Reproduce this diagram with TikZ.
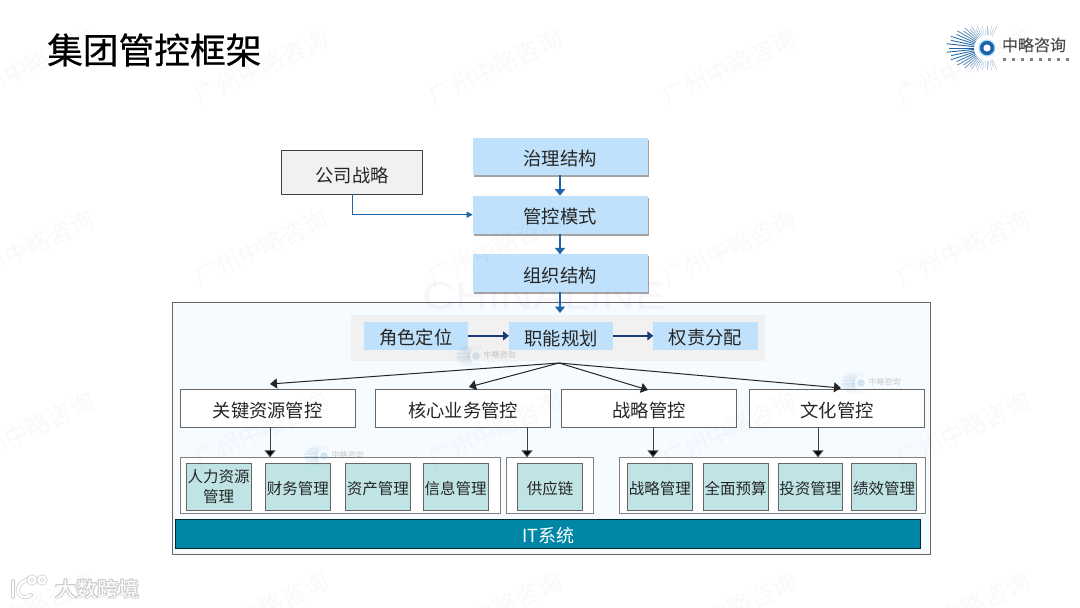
\documentclass[tikz,border=0pt]{standalone}
\usepackage{fontspec}
\setmainfont{Noto Sans CJK SC}
\newfontfamily\latinfont{Liberation Sans}
\newfontfamily\titlefont[FakeBold=0.5]{Noto Sans CJK SC}
\newfontfamily\logofont[FakeBold=0.2]{Noto Sans CJK SC}
\usetikzlibrary{arrows.meta,shadows,calc}
\definecolor{cblue}{HTML}{BFE1FB}
\definecolor{cteal}{HTML}{C0E4E6}
\definecolor{cbar}{HTML}{0087A6}
\definecolor{cpanel}{HTML}{F6FBFF}
\definecolor{cband}{HTML}{F1F1F1}
\definecolor{carrow}{HTML}{1F64A6}
\definecolor{cnavy}{HTML}{1B3A7A}
\definecolor{ctext}{HTML}{262626}
\newcommand{\pxnode}[7]{%
  \pgfmathsetmacro{\pxw}{#5-#3}\pgfmathsetmacro{\pxh}{#6-#4}%
  \pgfmathsetmacro{\pxx}{(#5+#3)/2}\pgfmathsetmacro{\pxy}{(#6+#4)/2}%
  \node[#2,minimum width=\pxw pt,minimum height=\pxh pt] (#1) at (\pxx,\pxy) {#7};}
\tikzset{
  x=1pt,y=-1pt,
  basebox/.style={rectangle,inner sep=0pt,outer sep=0pt,align=center,text=ctext,font=\fontsize{18.3}{22}\selectfont,
    execute at begin node={\rule{0pt}{1.08em}}},
  gov/.style={basebox,fill=cblue,drop shadow={shadow xshift=1.4pt,shadow yshift=-2pt,opacity=.6,fill=black!60}},
  strat/.style={basebox,fill=cband,draw=black!75,line width=.9pt,execute at begin node={\rule{0pt}{1.22em}}},
  panelbox/.style={basebox,fill=cpanel,draw=black!60,line width=1pt},
  bandbox/.style={basebox,fill=cband},
  role/.style={basebox,fill=cblue},
  level/.style={basebox,fill=white,draw=black!60,line width=1pt},
  groupbox/.style={basebox,fill=white,draw=black!50,line width=.9pt},
  leaf/.style={basebox,fill=cteal,draw=black!60,line width=1pt,font=\fontsize{15.5}{20}\selectfont,text=ctext},
  itbar/.style={basebox,fill=cbar,draw=black!70!cbar,line width=1pt,text=white,font=\fontsize{18}{20}\selectfont},
  flowblue/.style={draw=carrow,line width=1.3pt,-{Triangle[length=6.5pt,width=10pt]}},
  flowthin/.style={draw=carrow,line width=1.1pt,-{Triangle[length=6pt,width=6pt]}},
  flownavy/.style={draw=cnavy,line width=1.4pt,-{Triangle[length=6pt,width=9pt]}},
  flowblack/.style={draw=black!85,line width=1pt,-{Triangle[length=7pt,width=10pt]}},
  flowdown/.style={draw=black!75,line width=1pt,-{Triangle[length=7pt,width=11pt,fill=black]}},
  wmark/.style={text=black!50!blue,opacity=.025,rotate=25,font=\fontsize{24}{24}\selectfont},
  logomark/.pic={
    \foreach \a in {66,72,...,294}{
      \pgfmathsetmacro{\rr}{19+5*abs(cos(\a))+14*cos(\a)*cos(\a)*cos(\a)*cos(\a)+mod(\a,12)/6*3}
      \pgfmathsetmacro{\wd}{0.3+0.6*cos(\a)*cos(\a)}
      \pgfmathsetmacro{\mixv}{35+65*cos(\a)*cos(\a)}
      \draw[color=carrow!\mixv!white,line width=\wd pt] (\a:13) -- (\a:\rr);
    }
    \fill[cyan!30!white] (0,0) circle (8.6);
    \fill[carrow] (0,0) circle (7.2);
    \fill[white] (0,0) circle (3.6);
    \node[transform shape,text=black!70,font=\logofont\fontsize{16}{16}\selectfont,inner sep=0pt] at (47,-3) {中略咨询};
    \foreach \k in {0,...,7}{ \fill[black!50] (15.5+\k*9,9.5) rectangle (18.5+\k*9,12.5); }
  }
}
\begin{document}
\begin{tikzpicture}
\useasboundingbox (0,0) rectangle (1080,608);
\fill[white] (0,0) rectangle (1080,608);

% title
\node[anchor=west,inner sep=0pt,text=black,font=\titlefont\fontsize{35.7}{36}\selectfont] (title) at (47,50) {集团管控框架};

% main logo
\pic at (987,48) {logomark};

% container
\pxnode{panel}{panelbox}{172.3}{302}{930}{554}{}
\node[text=black!40!blue,opacity=.035,inner sep=0pt,xscale=1.17,transform shape,font=\latinfont\fontsize{39}{39}\selectfont] (brand) at (544,296) {CHINALINE};

% governance chain
\pxnode{gov1}{gov}{472.7}{138.3}{647.7}{175.3}{治理结构}
\pxnode{gov2}{gov}{472.7}{195.7}{647.7}{233.7}{管控模式}
\pxnode{gov3}{gov}{472.7}{254.3}{647.7}{292.3}{组织结构}
\pxnode{corp}{strat}{281.5}{150}{422.7}{194}{公司战略}

% role band
\pxnode{band}{bandbox}{351}{315}{765}{361}{}
\pxnode{r1}{role}{364}{321.7}{467.7}{350}{角色定位}
\pxnode{r2}{role}{509}{321.7}{613.3}{350}{职能规划}
\pxnode{r3}{role}{653.3}{321.7}{757.7}{350}{权责分配}

% levels
\pxnode{k1}{level}{180.3}{389.7}{355}{427}{关键资源管控}
\pxnode{k2}{level}{375.7}{389.7}{550.7}{427}{核心业务管控}
\pxnode{k3}{level}{561.7}{389.7}{736.3}{427}{战略管控}
\pxnode{k4}{level}{749.7}{389.7}{924.3}{427}{文化管控}

% groups
\pxnode{g1}{groupbox}{180.3}{457.3}{500.7}{513.5}{}
\pxnode{g2}{groupbox}{506.3}{457.3}{593.7}{513.5}{}
\pxnode{g3}{groupbox}{619.7}{457.3}{925}{513.5}{}

% leaves
\pxnode{a1}{leaf}{186}{463}{251}{510.3}{人力资源\\管理}
\pxnode{a2}{leaf}{265.3}{463}{330.3}{510.3}{财务管理}
\pxnode{a3}{leaf}{345.3}{463}{410.3}{510.3}{资产管理}
\pxnode{a4}{leaf}{423}{463}{488.3}{510.3}{信息管理}
\pxnode{b1}{leaf}{517.3}{463}{582.7}{510.3}{供应链}
\pxnode{c1}{leaf}{627.3}{463}{692.3}{510.3}{战略管理}
\pxnode{c2}{leaf}{703}{463}{768.3}{510.3}{全面预算}
\pxnode{c3}{leaf}{778}{463}{842.7}{510.3}{投资管理}
\pxnode{c4}{leaf}{851.7}{463}{916.7}{510.3}{绩效管理}

% IT bar
\pxnode{it}{itbar}{175.7}{519}{920.7}{548.3}{IT系统}

% connector anchors
\coordinate (hub) at (559,363);
\coordinate (enterband) at (560,313);
\coordinate (t1) at (270,384);
\coordinate (t2) at (469,387);
\coordinate (t3) at (648,390);
\coordinate (t4) at (841,388);
\coordinate (d1) at (270,457.3);
\coordinate (d2) at (527,457.3);
\coordinate (d3) at (653,457.3);
\coordinate (d4) at (818,457.3);

% connectors
\draw[flowblue] (gov1.south -| enterband) -- (gov2.north -| enterband);
\draw[flowblue] (gov2.south -| enterband) -- (gov3.north -| enterband);
\draw[flowblue] (gov3.south -| enterband) -- (enterband);
\draw[flowthin] (corp.south) |- (gov2.west);
\draw[flownavy] (r1.east) -- (r2.west);
\draw[flownavy] (r2.east) -- (r3.west);
\draw[flowblack] (hub) -- (t1);
\draw[flowblack] (hub) -- (t2);
\draw[flowblack] (hub) -- (t3);
\draw[flowblack] (hub) -- (t4);
\draw[flowdown] (k1.south -| d1) -- (d1);
\draw[flowdown] (k2.south -| d2) -- (d2);
\draw[flowdown] (k3.south -| d3) -- (d3);
\draw[flowdown] (k4.south -| d4) -- (d4);

% faint small logos
\begin{scope}[opacity=.14]
\pic[scale=.5] at (324,456) {logomark};
\pic[scale=.5] at (476,356) {logomark};
\pic[scale=.5] at (861,383) {logomark};
\end{scope}

% repeated watermark
\foreach \wx in {27,261,495,729,963}{
  \foreach \wy in {67,248,430,610}{
    \node[wmark] at (\wx,\wy) {广州中略咨询};
  }
}

% bottom-left badge
\begin{scope}
\foreach \dx/\dy in {-.8/0,.8/0,0/-.8,0/.8,.6/.6,-.6/.6,.6/-.6,-.6/-.6}{
  \node[text=black!20,inner sep=0pt,font=\fontsize{21}{21}\selectfont] at ($(97.5,589)+(\dx,\dy)$) {大数跨境};
}
\node[text=white,inner sep=0pt,font=\fontsize{21}{21}\selectfont] (badge) at (97.5,589) {大数跨境};
\tikzset{badgeline/.style={draw=black!20,double=white,double distance=2.6pt,line width=.7pt,line cap=round}}
\draw[badgeline] (13,581) -- (13,597);
\draw[badgeline] (28,579) .. controls (18,583) and (16,590) .. (19,594) .. controls (21,598) and (27,598) .. (31,595);
\draw[badgeline] (32,580) circle (3.4);
\draw[badgeline] (42,580) circle (3.4);
\end{scope}
\end{tikzpicture}
\end{document}
